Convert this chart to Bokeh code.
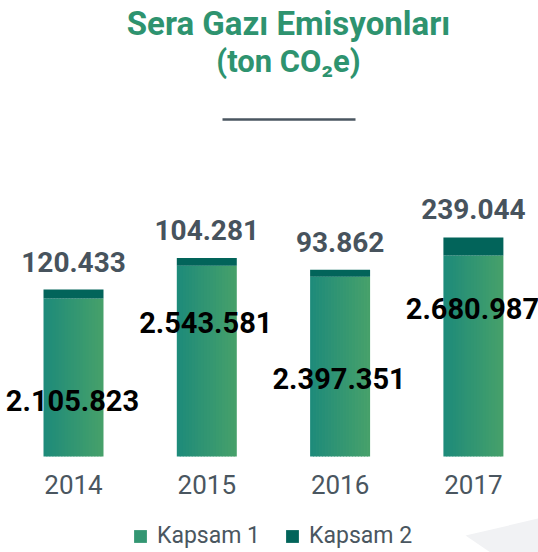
import numpy as np
from bokeh.plotting import figure
from bokeh.models import Range1d, Label, Legend, LegendItem
from bokeh.embed import file_html
from bokeh.resources import INLINE
from bokeh.core.properties import value

# ---------------- data ----------------
years = ["2014", "2015", "2016", "2017"]
kapsam1 = [2105823, 2543581, 2397351, 2680987]
kapsam2 = [120433, 104281, 93862, 239044]
k1_labels = ["2.105.823", "2.543.581", "2.397.351", "2.680.987"]
k2_labels = ["120.433", "104.281", "93.862", "239.044"]

# ---------------- layout / style ----------------
W, H = 538, 552
PX_PER_X = 133.3          # px between bar centres
X0_PX = 73                # px of first bar centre
PX_PER_Y = 75 / 1e6       # px per ton
BASE_PX = 96              # baseline distance from figure bottom
BAR_W = 0.45
K1_LABEL_FRAC = [0.29, 0.65, 0.378, 0.686]   # where inside each bar the Kapsam 1 label sits
TXT_SHIFT = -10           # px correction for text baseline

GREEN_L = np.array([29, 138, 122])
GREEN_R = np.array([71, 161, 106])
DARK = "#02645a"
GRAY = "#4a5660"
TITLE_C = "#2e936f"
FONT = "Roboto"


def dx(px):  # page px -> data x
    return (px - X0_PX) / PX_PER_X


def dy(py):  # page px (from top) -> data y
    return (H - py - BASE_PX) / PX_PER_Y


p = figure(width=W, height=H,
           x_range=Range1d(-X0_PX / PX_PER_X, (W - X0_PX) / PX_PER_X),
           y_range=Range1d(-BASE_PX / PX_PER_Y, (H - BASE_PX) / PX_PER_Y),
           output_backend="svg", toolbar_location=None,
           x_axis_location=None, y_axis_location=None,
           min_border=0, outline_line_color=None)
p.grid.visible = False

# decorative light shape bottom-right
p.patch([dx(465), dx(538), dx(538), dx(490)], [dy(535), dy(518), dy(552), dy(552)],
        fill_color="#f1f2f4", line_color=None)

xs = np.arange(len(years), dtype=float)
k1 = np.array(kapsam1, dtype=float)
k2 = np.array(kapsam2, dtype=float)

# Kapsam 1 bars with horizontal gradient (strips)
N = 20
sw = BAR_W / N
overlap = 0.8 / PX_PER_X
mid_renderer = None
for i in range(N):
    f = (i + 0.5) / N
    c = tuple(int(round(v)) for v in GREEN_L + (GREEN_R - GREEN_L) * f)
    col = "#%02x%02x%02x" % c
    left = xs - BAR_W / 2 + i * sw
    right = left + sw + (overlap if i < N - 1 else 0)
    r = p.quad(left=left, right=right, bottom=0, top=k1, fill_color=col, line_color=None)
    if i == N // 2:
        mid_renderer = r

# Kapsam 2 bars
r2 = p.vbar(x=xs, width=BAR_W, bottom=k1, top=k1 + k2, fill_color=DARK, line_color=None)

# value labels
p.text(x=xs, y=k1 + k2, text=k2_labels, y_offset=-18 + TXT_SHIFT,
       text_align="center", text_baseline="alphabetic",
       text_font=value(FONT), text_font_style="bold", text_font_size="28px",
       text_color="#47535d")
p.text(x=xs, y=k1 * np.array(K1_LABEL_FRAC), text=k1_labels, y_offset=TXT_SHIFT,
       x_offset=-1,
       text_align="center", text_baseline="alphabetic",
       text_font=value(FONT), text_font_style="bold", text_font_size="29px",
       text_color="#000000")

# year labels
p.text(x=xs, y=[dy(494)] * len(years), text=years, y_offset=TXT_SHIFT,
       text_align="center", text_baseline="alphabetic",
       text_font=value(FONT), text_font_size="26px", text_color=GRAY)

# title
p.add_layout(Label(x=dx(288), y=dy(23), text="Sera Gazı Emisyonları",
                   text_align="center", text_baseline="alphabetic",
                   text_font=FONT, text_font_style="bold", text_font_size="33px",
                   text_color=TITLE_C))
p.add_layout(Label(x=dx(288), y=dy(61), text="(ton CO₂e)",
                   text_align="center", text_baseline="alphabetic",
                   text_font=FONT, text_font_style="bold", text_font_size="31px",
                   text_color=TITLE_C))
p.segment(x0=[dx(222)], y0=[dy(119)], x1=[dx(355)], y1=[dy(119)],
          line_color=GRAY, line_width=2.5)

legend = Legend(items=[LegendItem(label="Kapsam 1", renderers=[mid_renderer]),
                       LegendItem(label="Kapsam 2", renderers=[r2])],
                orientation="horizontal", location=(132, 3),
                glyph_width=16, glyph_height=16, label_standoff=9, spacing=24,
                padding=0, margin=0, border_line_color=None, background_fill_alpha=0,
                label_text_font=FONT, label_text_font_size="23px", label_text_color=GRAY)
p.add_layout(legend)

open("out.html", "w").write(file_html(p, INLINE))
